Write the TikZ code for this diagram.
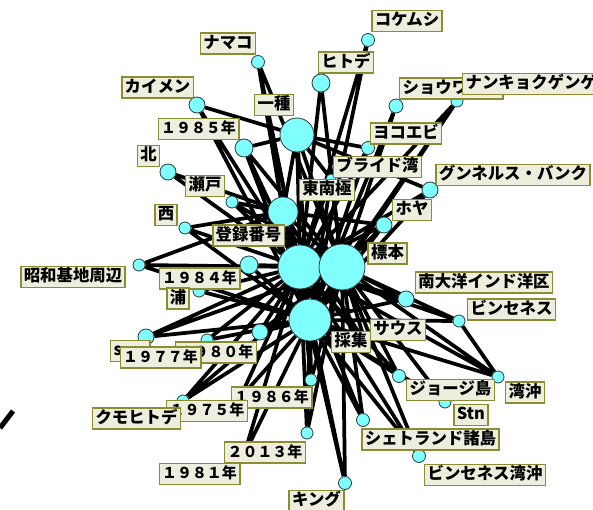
\documentclass[tikz,border=0pt]{standalone}
\usepackage{fontspec}
\newfontfamily\jpfont{Noto Sans CJK JP}
\usetikzlibrary{backgrounds}
\definecolor{vtxfill}{RGB}{128,255,255}
\definecolor{vtxdraw}{RGB}{40,60,60}
\definecolor{lblfill}{RGB}{238,238,222}
\definecolor{lbldraw}{RGB}{140,140,50}
\tikzset{every picture/.style={line width=0.75pt}}
\tikzset{
	vtx/.style={circle, draw=vtxdraw, line width=0.6pt, fill=vtxfill, inner sep=0pt, minimum size=#1},
	lbl/.style={draw=lbldraw, line width=1.1pt, fill=lblfill, inner xsep=2.2pt, inner ysep=2pt, text height=9.5pt, text depth=2.3pt, font=\jpfont\bfseries\fontsize{12.3}{14}\selectfont},
	yrlbl/.style={lbl, font=\jpfont\bfseries\fontsize{11.2}{13}\selectfont},
	link/.style={line width=2.8pt}}

\begin{document}
\begin{tikzpicture}[x=0.75pt,y=0.75pt,yscale=-1,xscale=1]
	\useasboundingbox (0,0) rectangle (593,510);
	\clip (0,0) rectangle (593,510);

	%Shape: Circle (hubs)
	\node[vtx=25.5pt] (issyu) at (297,135) {};
	\node[vtx=22.5pt] (tonan) at (283,212) {};
	\node[vtx=33pt] (toroku) at (300,267) {};
	\node[vtx=34.5pt] (hyohon) at (342,267) {};
	\node[vtx=31.5pt] (saisyu) at (310,320) {};
	%Shape: Circle (leaves, top)
	\node[vtx=9.75pt] (namako) at (258,62) {};
	\node[vtx=9.75pt] (kokemushi) at (368,40) {};
	\node[vtx=13.5pt] (hitode) at (321,83) {};
	\node[vtx=12pt] (kaimen) at (197,105) {};
	\node[vtx=13.5pt] (y1985) at (244,148) {};
	\node[vtx=10.5pt] (showa) at (396,106) {};
	\node[vtx=9pt] (nankyoku) at (457,101) {};
	\node[vtx=9.75pt] (yokoebi) at (368,148) {};
	\node[vtx=7.5pt] (buraido) at (331,179) {};
	\node[vtx=12pt] (gunnerus) at (430,190) {};
	\node[vtx=12pt] (hoya) at (384,225) {};
	%Shape: Circle (leaves, left)
	\node[vtx=12pt] (kita) at (168,172) {};
	\node[vtx=9pt] (seto) at (232,202) {};
	\node[vtx=9pt] (nishi) at (185,228) {};
	\node[vtx=9pt] (showakichi) at (139,265) {};
	\node[vtx=13.5pt] (y1984) at (249,265) {};
	\node[vtx=9pt] (ura) at (199,291) {};
	\node[vtx=12pt] (sss) at (146,337) {};
	\node[vtx=9pt] (y1977) at (207,340) {};
	\node[vtx=12pt] (y1980) at (260,332) {};
	\node[vtx=9pt] (kumohitode) at (183,401) {};
	\node[vtx=9pt] (y1975) at (240,398) {};
	%Shape: Circle (leaves, bottom and right)
	\node[vtx=9pt] (y1986) at (311,380) {};
	\node[vtx=9pt] (y2013) at (307,433) {};
	\node[vtx=9pt] (y1981) at (244,455) {};
	\node[vtx=9.75pt] (king) at (345,483) {};
	\node[vtx=9.75pt] (shetland) at (363,420) {};
	\node[vtx=9.75pt] (vwanoki) at (419,456) {};
	\node[vtx=9pt] (stn) at (445,402) {};
	\node[vtx=9.75pt] (george) at (399,376) {};
	\node[vtx=9pt] (wanoki) at (498,377) {};
	\node[vtx=9pt] (vincennes) at (459,321) {};
	\node[vtx=12pt] (nantaiyo) at (406,299) {};
	\node[vtx=7.5pt] (sausu) at (366,344) {};

	\begin{scope}[on background layer]
	%Links between hubs
	\draw[link] (issyu) -- (tonan) (issyu) -- (toroku) (issyu) -- (hyohon) (issyu) -- (saisyu)
		(tonan) -- (toroku) (tonan) -- (hyohon) (tonan) -- (saisyu)
		(toroku) -- (hyohon) (toroku) -- (saisyu) (hyohon) -- (saisyu) ;
	%Links from leaves
	\draw[link] (namako) -- (tonan) (namako) -- (toroku) (namako) -- (hyohon) (namako) -- (saisyu) ;
	\draw[link] (kokemushi) -- (toroku) (kokemushi) -- (saisyu) ;
	\draw[link] (hitode) -- (toroku) (hitode) -- (hyohon) ;
	\draw[link] (kaimen) -- (issyu) (kaimen) -- (toroku) (kaimen) -- (saisyu) ;
	\draw[link] (y1985) -- (issyu) (y1985) -- (toroku) (y1985) -- (hyohon) (y1985) -- (saisyu) ;
	\draw[link] (showa) -- (hyohon) (showa) -- (saisyu) ;
	\draw[link] (nankyoku) -- (toroku) (nankyoku) -- (hyohon) (nankyoku) -- (saisyu) ;
	\draw[link] (yokoebi) -- (issyu) (yokoebi) -- (toroku) (yokoebi) -- (saisyu) ;
	\draw[link] (buraido) -- (issyu) (buraido) -- (toroku) (buraido) -- (hyohon) (buraido) -- (saisyu) ;
	\draw[link] (gunnerus) -- (issyu) (gunnerus) -- (toroku) (gunnerus) -- (saisyu) ;
	\draw[link] (hoya) -- (tonan) (hoya) -- (toroku) (hoya) -- (hyohon) (hoya) -- (saisyu) ;
	\draw[link] (kita) -- (tonan) (kita) -- (toroku) ;
	\draw[link] (seto) -- (tonan) (seto) -- (toroku) (seto) -- (hyohon) ;
	\draw[link] (nishi) -- (tonan) (nishi) -- (toroku) (nishi) -- (saisyu) ;
	\draw[link] (showakichi) -- (tonan) (showakichi) -- (toroku) (showakichi) -- (saisyu) ;
	\draw[link] (y1984) -- (toroku) (y1984) -- (hyohon) (y1984) -- (saisyu) ;
	\draw[link] (ura) -- (toroku) (ura) -- (saisyu) ;
	\draw[link] (sss) -- (toroku) (sss) -- (hyohon) (sss) -- (saisyu) ;
	\draw[link] (y1977) -- (toroku) (y1977) -- (saisyu) ;
	\draw[link] (y1980) -- (toroku) (y1980) -- (hyohon) (y1980) -- (saisyu) ;
	\draw[link] (kumohitode) -- (toroku) (kumohitode) -- (hyohon) (kumohitode) -- (saisyu) ;
	\draw[link] (y1975) -- (toroku) (y1975) -- (saisyu) ;
	\draw[link] (y1986) -- (toroku) (y1986) -- (hyohon) (y1986) -- (saisyu) ;
	\draw[link] (y2013) -- (toroku) (y2013) -- (hyohon) (y2013) -- (saisyu) ;
	\draw[link] (y1981) -- (toroku) (y1981) -- (saisyu) ;
	\draw[link] (king) -- (tonan) (king) -- (toroku) (king) -- (hyohon) (king) -- (saisyu) ;
	\draw[link] (shetland) -- (toroku) (shetland) -- (hyohon) (shetland) -- (saisyu) ;
	\draw[link] (vwanoki) -- (toroku) (vwanoki) -- (hyohon) (vwanoki) -- (saisyu) ;
	\draw[link] (stn) -- (hyohon) (stn) -- (saisyu) ;
	\draw[link] (george) -- (toroku) (george) -- (hyohon) (george) -- (saisyu) ;
	\draw[link] (wanoki) -- (toroku) (wanoki) -- (hyohon) (wanoki) -- (saisyu) (wanoki) -- (vincennes) ;
	\draw[link] (vincennes) -- (toroku) (vincennes) -- (hyohon) (vincennes) -- (saisyu) ;
	\draw[link] (nantaiyo) -- (toroku) (nantaiyo) -- (hyohon) (nantaiyo) -- (saisyu) ;
	\draw[link] (sausu) -- (tonan) (sausu) -- (toroku) (sausu) -- (hyohon) (sausu) -- (saisyu) ;
	\end{scope}

	%Stray stroke at left edge
	\draw[line width=3.8pt] (0,428) -- (13,411) ;

	% Text Node
	\node[lbl] (l-namako) at (228,43.5) {ナマコ};
	\node[lbl] (l-kokemushi) at (407,21) {コケムシ};
	\node[lbl] (l-hitode) at (346,62.5) {ヒトデ};
	\node[lbl] (l-kaimen) at (157.5,87.5) {カイメン};
	\node[lbl] (l-issyu) at (274,105) {一種};
	\node[yrlbl] (l-y1985) at (198.5,129) {１９８５年};
	\node[lbl] (l-kita) at (148.5,156) {北};
	\node[lbl] (l-seto) at (205,186) {瀬戸};
	\node[lbl] (l-nishi) at (166,215) {西};
	\node[lbl] (l-toroku) at (248.5,235.5) {登録番号};
	\node[lbl] (l-showakichi) at (73,277) {昭和基地周辺};
	\node[yrlbl] (l-y1984) at (199.5,278.5) {１９８４年};
	\node[lbl] (l-ura) at (178,298.5) {浦};
	\node[lbl, anchor=west, text width=73pt, align=left] (l-showa) at (399,88.5) {ショウワ};
	\node[lbl, anchor=west] (l-nankyoku) at (462,84) {ナンキョクゲンゲ};
	\node[lbl] (l-yokoebi) at (406,133.5) {ヨコエビ};
	\node[lbl] (l-buraido) at (377.5,167) {ブライド湾};
	\node[lbl] (l-tonan) at (327,190) {東南極};
	\node[lbl] (l-gunnerus) at (513,175) {グンネルス・バンク};
	\node[lbl] (l-hoya) at (412,210) {ホヤ};
	\node[lbl] (l-hyohon) at (387.5,253.5) {標本};
	\node[lbl] (l-nantaiyo) at (484,282.5) {南大洋インド洋区};
	\node[lbl] (l-vincennes) at (511.5,309.5) {ビンセネス};
	\node[lbl] (l-sausu) at (398,330) {サウス};
	\node[lbl] (l-saisyu) at (351,342) {採集};
	\node[lbl] (l-george) at (450.5,390) {ジョージ島};
	\node[lbl] (l-wanoki) at (525,392.5) {湾沖};
	\node[lbl] (l-stn) at (471,415) {Stn};
	\node[lbl] (l-shetland) at (430.5,439.5) {シェトランド諸島};
	\node[lbl] (l-vwanoki) at (485,475) {ビンセネス湾沖};
	\node[lbl] (l-king) at (316.5,501) {キング};
	\node[yrlbl] (l-y1986) at (271.5,397.5) {１９８６年};
	\node[yrlbl] (l-y1981) at (199.5,474) {１９８１年};
	\node[yrlbl] (l-y2013) at (265,452.5) {２０１３年};
	\node[yrlbl] (l-y1975) at (207,411) {１９７５年};
	\node[lbl] (l-kumohitode) at (136.5,418.5) {クモヒトデ};
	\node[yrlbl] (l-y1980) at (216,352.5) {１９８０年};
	\node[lbl, anchor=west, text width=25pt, align=left] (l-sss) at (110,351) {s};
	\node[yrlbl] (l-y1977) at (160.5,357.5) {１９７７年};

\end{tikzpicture}
\end{document}
